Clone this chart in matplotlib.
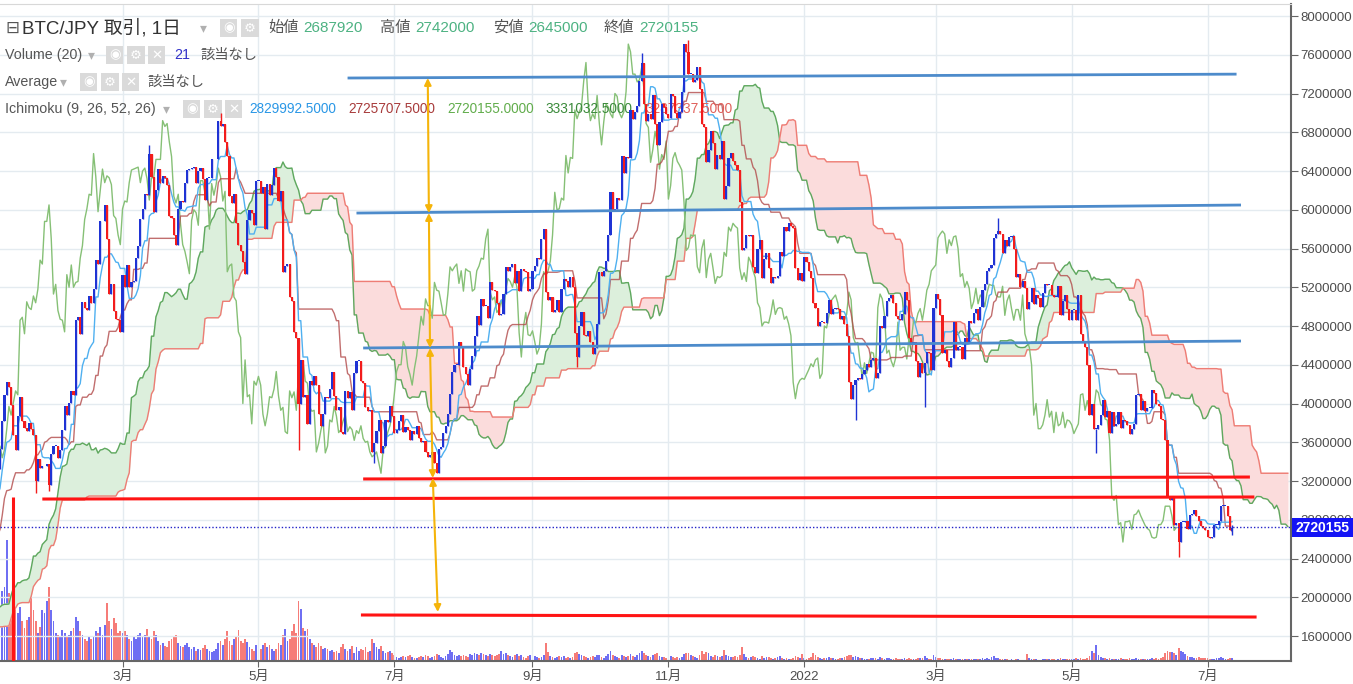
import numpy as np
import pandas as pd
import matplotlib
matplotlib.use('Agg')
import matplotlib.pyplot as plt
import matplotlib.dates as mdates
from matplotlib.patches import FancyArrowPatch, Rectangle

plt.rcParams['font.family'] = ['Liberation Sans', 'Noto Sans CJK JP', 'DejaVu Sans']

# daily closes, in 10,000 JPY
close_2020_10 = [134,136,135,137,136,136,143,139,141,142,144]  # from Oct 21
close_2020_11 = [144,142,146,148,163,163,155,162,160,160, 164,170,171,168,167,175,185,186,186,195,
                 195,192,192,200,196,179,179,185,190,205]
close_2020_12 = [195,199,201,194,198,200,198,190,192,189, 187,195,198,199,201,221,236,239,247,243,
                 235,247,241,246,256,274,272,280,283,298, 300]
close_2021_01 = [305,334,340,332,353,382,409,422,417,398, 368,352,387,407,382,375,372,380,374,368,
                 320,343,333,335,336,338,316,348,356,356, 344]
close_2021_02 = [352,373,397,388,401,413,409,486,489,472, 505,499,497,511,504,518,548,544,588,588,
                 605,570,513,523,496,487,486,474]
close_2021_03 = [533,520,543,520,525,526,550,563,590,601, 616,615,658,634,598,620,642,628,635,633,
                 626,594,591,574,564,601,609,608,628,641, 642]
close_2021_04 = [643,644,628,640,643,632,610,633,633,652, 652,652,692,686,689,670,655,614,607,616,
                 586,564,557,546,534,589,600,597,584,630]
close_2021_05 = [630,617,623,580,627,615,626,643,634,609, 619,536,542,544,510,506,474,468,400,445,
                 407,409,379,423,419,428,419,389,377,389, 407]
close_2021_06 = [406,415,433,408,393,396,371,369,413,406, 412,393,432,444,444,423,421,396,392,393,
                 350,359,372,383,349,356,383,381,397,387]
close_2021_07 = [370,373,382,388,371,376,373,362,372,369, 377,364,360,361,350,345,347,350,339,328,
                 353,355,370,377,389,410,433,440,440,464, 458]
close_2021_08 = [438,430,419,436,449,470,490,481,508,501, 501,488,525,517,516,504,491,492,513,541,
                 537,541,544,524,537,516,539,537,536,516, 518]
close_2021_09 = [537,542,550,549,570,580,515,507,510,494, 497,507,494,518,529,526,520,531,520,473,
                 448,480,494,471,470,475,464,451,457,482]
close_2021_10 = [536,532,537,547,574,618,600,601,612,610, 656,638,654,653,703,694,701,707,733,752,
                 709,692,699,694,718,689,667,691,709,706, 699]
close_2021_11 = [695,720,717,700,695,701,722,771,763,740, 740,732,734,747,725,689,685,649,662,681,
                 669,642,657,652,671,611,625,653,659,650]
close_2021_12 = [646,641,608,558,561,574,573,574,541,535, 560,569,530,549,555,540,524,531,530,532,
                 556,552,582,578,586,583,581,540,528,535, 526]
close_2022_01 = [551,546,537,530,504,499,480,484,484,483, 493,507,492,498,499,498,487,490,482,470,
                 422,405,419,424,426,425,430,435,441,438, 445]
close_2022_02 = [447,426,431,480,478,490,506,509,512,504, 490,487,486,492,515,507,468,462,463,444,
                 427,442,431,442,453,452,435,499]
close_2022_03 = [513,508,491,452,455,444,438,447,484,455, 458,458,446,468,464,485,483,493,498,486,
                 500,517,523,537,540,543,571,575,578,575, 555]
close_2022_04 = [569,563,572,573,560,531,534,520,526,519, 498,505,519,503,512,509,500,514,523,522,
                 522,512,510,510,521,491,506,512,498,486]
close_2022_05 = [497,497,486,512,472,464,458,440,388,400, 374,374,378,388,404,386,392,370,391,377,
                 379,391,375,383,382,378,369,374,379,409, 410]
close_2022_06 = [393,403,392,395,395,414,411,399,397,384, 383,362,304,300,305,275,277,257,278,278,
                 279,270,285,286,290,284,279,274,271,269]
close_2022_07 = [262,261,262,275,275,279,294,294,294,284, 269,272]

# notable wick extremes (10,000 JPY)
wick_low = {'2021-01-21': 308, '2021-01-27': 310, '2021-05-19': 352, '2021-06-22': 339,
            '2021-09-21': 438, '2022-01-24': 383, '2022-02-24': 396, '2022-05-12': 349,
            '2022-06-18': 242}
wick_high = {'2021-03-13': 667, '2021-04-14': 700, '2021-10-20': 762, '2021-11-10': 775,
             '2022-03-29': 592}

# volume bar heights (relative units)
vol_2021_01 = [70,74,121,68,60,103,58,48,54,40, 33,41,44,69,51,40,28,34,51,48, 60,74,51,40,28,26]  # from Jan 6
vol_2021_02 = [25,31,28,24,26,30,33,44,40,30, 26,22,20,24,22,25,30,28,34,26, 36,58,40,32,43,38,28,30]
vol_2021_03 = [28,30,26,22,20,24,22,26,28,24, 26,32,24,22,30,26,20,16,18,15, 14,20,22,24,26,18,15,14,16,18, 14]
vol_2021_04 = [12,14,10,12,11,13,16,12,10,9, 10,12,18,20,16,22,30,20,16,22, 24,31,20,18,22,19,14,12,10,16]
vol_2021_05 = [14,12,16,18,14,16,12,10,12,18, 16,26,32,20,22,30,37,28,60,52, 33,30,32,22,18,16,14,18,15,12, 13]
vol_2021_06 = [12,10,11,9,10,8,14,17,12,10, 12,15,8,14,10,12,11,14,9,10, 22,18,14,12,15,10,8,9,10,8]
vol_2021_07 = [6,4,3,4,5,4,5,6,4,3, 3,4,5,4,6,5,3,4,5,7, 6,4,3,5,7,11,9,6,5,6, 5]
vol_2021_08 = [6,5,4,7,6,8,7,6,8,7, 6,5,7,6,5,6,7,10,7,8, 6,5,4,6,7,5,6,4,3,5, 6]
vol_2021_09 = [4,5,4,3,4,6,18,9,5,4, 3,4,5,4,5,3,4,3,4,8, 9,7,6,5,4,3,4,5,4,6]
vol_2021_10 = [6,4,3,5,7,10,6,5,4,3, 6,5,4,5,7,5,4,6,8,10, 8,6,5,4,6,7,8,5,4,4, 3]
vol_2021_11 = [4,5,4,3,4,3,4,7,8,8, 6,5,4,3,6,10,7,9,8,5, 4,6,5,4,5,11,6,5,4,4]
vol_2021_12 = [5,4,6,14,7,4,3,4,5,4, 3,2,5,3,4,4,3,2,3,4, 5,3,2,3,2,2,3,5,4,3, 7]
vol_2022_01 = [3,2,3,4,8,6,4,3,2,3, 3,4,3,3,2,2,3,3,4,5, 6,6,4,5,4,3,3,2,2,2, 3]
vol_2022_02 = [3,3,2,4,3,2,3,3,2,2, 3,2,2,2,3,2,3,2,2,2, 3,3,3,5,3,2,2,6]
vol_2022_03 = [4,3,3,2,2,2,2,2,3,2, 2,2,2,2,2,2,2,2,2,2, 2,3,2,3,2,4,5,3,3,2, 2]
vol_2022_04 = [2,2,1,2,1,2,2,1,1,1, 7,3,2,2,2,1,1,2,2,2, 2,2,2,1,2,3,2,2,2,2]
vol_2022_05 = [2,2,3,2,3,2,2,3,5,10, 8,16,6,4,3,3,2,3,2,2, 2,2,3,2,2,2,3,2,2,3, 2]
vol_2022_06 = [2,2,2,2,2,3,2,3,2,3, 4,8,10,9,9,8,6,13,10,9, 7,5,4,4,3,3,4,3,3,3]
vol_2022_07 = [3,2,2,2,3,3,4,3,2,2, 3,3]

month_ticks = ['2021-03-01', '2021-05-01', '2021-07-01', '2021-09-01', '2021-11-01',
               '2022-01-01', '2022-03-01', '2022-05-01', '2022-07-01']
month_labels = ['3月', '5月', '7月', '9月', '11月', '2022', '3月', '5月', '7月']
price_ticks = list(range(1600000, 8000001, 400000))
last_price = 2720155


def build(parts):
    idx, vals = [], []
    for start, v in parts:
        idx.extend(pd.date_range(start, periods=len(v), freq='D'))
        vals.extend(v)
    return pd.Series(vals, index=pd.DatetimeIndex(idx), dtype=float)


close = build([('2020-10-21', close_2020_10), ('2020-11-01', close_2020_11), ('2020-12-01', close_2020_12),
               ('2021-01-01', close_2021_01), ('2021-02-01', close_2021_02), ('2021-03-01', close_2021_03),
               ('2021-04-01', close_2021_04), ('2021-05-01', close_2021_05), ('2021-06-01', close_2021_06),
               ('2021-07-01', close_2021_07), ('2021-08-01', close_2021_08), ('2021-09-01', close_2021_09),
               ('2021-10-01', close_2021_10), ('2021-11-01', close_2021_11), ('2021-12-01', close_2021_12),
               ('2022-01-01', close_2022_01), ('2022-02-01', close_2022_02), ('2022-03-01', close_2022_03),
               ('2022-04-01', close_2022_04), ('2022-05-01', close_2022_05), ('2022-06-01', close_2022_06),
               ('2022-07-01', close_2022_07)]) * 10000
vol = build([('2021-01-06', vol_2021_01), ('2021-02-01', vol_2021_02), ('2021-03-01', vol_2021_03),
             ('2021-04-01', vol_2021_04), ('2021-05-01', vol_2021_05), ('2021-06-01', vol_2021_06),
             ('2021-07-01', vol_2021_07), ('2021-08-01', vol_2021_08), ('2021-09-01', vol_2021_09),
             ('2021-10-01', vol_2021_10), ('2021-11-01', vol_2021_11), ('2021-12-01', vol_2021_12),
             ('2022-01-01', vol_2022_01), ('2022-02-01', vol_2022_02), ('2022-03-01', vol_2022_03),
             ('2022-04-01', vol_2022_04), ('2022-05-01', vol_2022_05), ('2022-06-01', vol_2022_06),
             ('2022-07-01', vol_2022_07)])

# the last bar's OHLC is shown in the header
open_ = close.shift(1)
open_.iloc[0] = close.iloc[0]
open_.iloc[-1] = 2687920
high = np.maximum(open_, close)
low = np.minimum(open_, close)
for d, v in wick_low.items():
    low[d] = min(low[d], v * 10000)
for d, v in wick_high.items():
    high[d] = max(high[d], v * 10000)
high.iloc[-1] = 2742000
low.iloc[-1] = 2645000

# Ichimoku (9, 26, 52, 26)
shift = 25
tenkan = (high.rolling(9).max() + low.rolling(9).min()) / 2
kijun = (high.rolling(26).max() + low.rolling(26).min()) / 2
future = pd.date_range(close.index[-1] + pd.Timedelta(days=1), periods=shift, freq='D')
full_idx = close.index.append(future)
span_a = ((tenkan + kijun) / 2).reindex(full_idx).shift(shift)
span_b = ((high.rolling(52).max() + low.rolling(52).min()) / 2).reindex(full_idx).shift(shift)
chikou = close.shift(-shift)

W, H = 1353, 684
fig = plt.figure(figsize=(W / 100, H / 100), dpi=100)
rect = [0, 1 - 661 / H, 1291 / W, 657 / H]
ax_vol = fig.add_axes(rect)
ax = fig.add_axes(rect, sharex=ax_vol)
ax.patch.set_alpha(0)

x0 = mdates.date2num(pd.Timestamp('2021-01-05'))
ax.set_xlim(x0, x0 + 1291 / 2.228)
ax.set_ylim(1342000, 8124000)

# volume
vis = close.index >= '2021-01-05'
up = (close >= open_)
vv = vol.reindex(close.index)
xv = mdates.date2num(vv.index)
vcol = np.where(up, '#6f6ff3', '#f67c78')
ax_vol.bar(xv, vv.fillna(0).values, width=0.8, color=vcol, linewidth=0)
ax_vol.set_ylim(0, 657)
ax_vol.set_axis_off()

# grid
for t in price_ticks:
    ax.axhline(t, color='#e4ebf0', lw=1, zorder=0)
for t in month_ticks:
    ax.axvline(mdates.date2num(pd.Timestamp(t)), color='#e4ebf0', lw=1, zorder=0)

# cloud
xf = mdates.date2num(full_idx)
ax.fill_between(xf, span_a, span_b, where=span_a >= span_b, color='#dcefdc', interpolate=True, zorder=1)
ax.fill_between(xf, span_a, span_b, where=span_a < span_b, color='#fbdcdc', interpolate=True, zorder=1)
ax.plot(xf, span_a, color='#5fa85f', lw=1, zorder=2)
ax.plot(xf, span_b, color='#ee7d75', lw=1, zorder=2)
xc = mdates.date2num(close.index)
ax.plot(xc, chikou, color='#86c076', lw=1, zorder=2)
ax.plot(xc, kijun, color='#b24a4a', lw=1, alpha=0.8, zorder=2)
ax.plot(xc, tenkan, color='#4fb0f0', lw=1, zorder=2)

# candles
ccol = np.where(up, '#1f33d4', '#f21c1c')
ax.vlines(xc[vis], low[vis], high[vis], colors=ccol[vis], lw=1, zorder=3)
body_lo = np.minimum(open_, close)
body_h = np.maximum(np.abs(close - open_), 9000)
ax.bar(xc[vis], body_h[vis], bottom=body_lo[vis], width=0.95, color=ccol[vis], linewidth=0, zorder=4)

# last price line and label
ax.axhline(last_price, color='#2424c8', ls=(0, (1, 1.5)), lw=1, zorder=5)
ax.add_patch(Rectangle((1292 / W, 1 - 537 / H), 61 / W, 19 / H, transform=fig.transFigure,
                       fc='#1414f5', ec='none', zorder=10, clip_on=False))
ax.text(1322.5 / W, 1 - 527.5 / H, str(last_price), transform=fig.transFigure, ha='center', va='center',
        color='white', fontsize=10, fontweight='bold', zorder=11, clip_on=False)

# drawn lines
def d(s):
    return mdates.date2num(pd.Timestamp(s))

blue_lines = [(('2021-06-10', 7360000), ('2022-07-14', 7400000)),
              (('2021-06-14', 5966000), ('2022-07-16', 6049000)),
              (('2021-06-17', 4573000), ('2022-07-16', 4645000))]
red_lines = [(('2021-06-17', 3221000), ('2022-07-20', 3241000)),
             (('2021-01-24', 3014000), ('2022-07-22', 3035000)),
             (('2021-06-16', 1817000), ('2022-07-23', 1796000)),
             (('2021-01-11', 3040000), ('2021-01-11', 1300000))]
for (a, b) in blue_lines:
    ax.plot([d(a[0]), d(b[0])], [a[1], b[1]], color='#4d8bcb', lw=2, zorder=6, solid_capstyle='butt')
for (a, b) in red_lines:
    ax.plot([d(a[0]), d(b[0])], [a[1], b[1]], color='#ff1414', lw=2.2, zorder=6, solid_capstyle='butt')

arrow_pts = [('2021-07-16', 7360000), ('2021-07-16 12:00', 5966000), ('2021-07-17', 4573000),
             ('2021-07-18 06:00', 3231000), ('2021-07-20 12:00', 1848000)]
for p, q in zip(arrow_pts[:-1], arrow_pts[1:]):
    ax.add_patch(FancyArrowPatch((d(p[0]), p[1]), (d(q[0]), q[1]), arrowstyle='<|-|>',
                                 mutation_scale=10, color='#f5b40a', lw=1.5, shrinkA=0, shrinkB=0,
                                 zorder=7))

# axes styling
ax.yaxis.tick_right()
ax.set_yticks(price_ticks)
ax.set_yticklabels([str(t) for t in price_ticks])
ax.set_xticks([d(t) for t in month_ticks])
ax.set_xticklabels(month_labels)
ax.tick_params(axis='y', direction='out', length=5, color='#666666', labelsize=9.5,
               labelcolor='#4d4d4d', pad=2)
ax.tick_params(axis='x', direction='out', length=4, color='#666666', labelsize=9.5,
               labelcolor='#4d4d4d', pad=3)
ax.spines['left'].set_visible(False)
ax.spines['top'].set_color('#d8d8d8')
ax.spines['right'].set_color('#666666')
ax.spines['bottom'].set_color('#666666')
ax.spines['right'].set_linewidth(1.5)
ax.spines['bottom'].set_linewidth(1.5)


# header texts
def put(x, y, s, color='#555555', size=9.5, **kw):
    ax.text(x / W, 1 - y / H, s, transform=fig.transFigure, color=color, fontsize=size,
            va='center', ha='left', zorder=2.5, clip_on=False, **kw)


def icons(x, y, glyphs):
    for i, g in enumerate(glyphs):
        ax.text((x + i * 21) / W, 1 - y / H, g, transform=fig.transFigure, color='white',
                fontsize=9.5, va='center', ha='left', family='DejaVu Sans', zorder=2.5,
                bbox=dict(boxstyle='square,pad=0.22', fc='#dadada', ec='none'))


put(5, 28, '⊟', '#555555', 12, family='DejaVu Sans')
put(22, 28, 'BTC/JPY 取引, 1日', '#333333', 13.5)
put(200, 28, '▾', '#b0b0b0', 10, family='DejaVu Sans')
icons(223, 28, ['◉', '⚙'])
ohlc = [('始値', '2687920', 268), ('高値', '2742000', 380), ('安値', '2645000', 493), ('終値', '2720155', 604)]
for lab, val, xx in ohlc:
    put(xx, 28, lab, '#555555', 11)
    put(xx + 35, 28, val, '#4db282', 11)

put(5, 55, 'Volume (20)', '#555555', 10.3)
put(88, 55, '▾', '#b0b0b0', 10, family='DejaVu Sans')
icons(109, 55, ['◉', '⚙', '✕'])
put(174, 55, '21', '#3232c8', 10.3)
put(200, 55, '該当なし', '#555555', 10.3)

put(5, 82, 'Average', '#555555', 10.3)
put(60, 82, '▾', '#b0b0b0', 10, family='DejaVu Sans')
icons(83, 82, ['◉', '⚙', '✕'])
put(147, 82, '該当なし', '#555555', 10.3)

put(5, 109, 'Ichimoku (9, 26, 52, 26)', '#555555', 10.3)
put(163, 109, '▾', '#b0b0b0', 10, family='DejaVu Sans')
icons(186, 109, ['◉', '⚙', '✕'])
ichi_vals = [('2829992.5000', '#2a97e6', 249), ('2725707.5000', '#a83c3c', 348),
             ('2720155.0000', '#62ad4c', 447), ('3331032.5000', '#3b8a3b', 546),
             ('3287337.5000', '#e0605a', 645)]
for s, c, xx in ichi_vals:
    put(xx, 109, s, c, 9.8)

fig.savefig('out.png', dpi=100)
